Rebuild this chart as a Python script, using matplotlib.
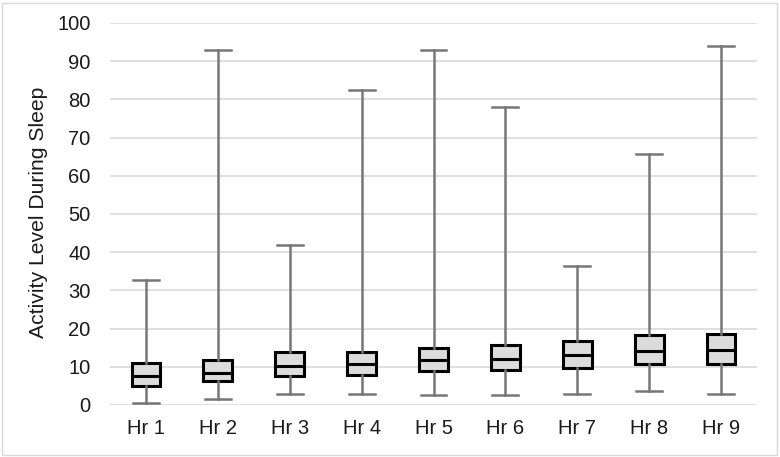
import matplotlib.pyplot as plt

plt.rcParams['font.family'] = ['Liberation Sans', 'DejaVu Sans']

# Box plot summary per hour
hours = ['Hr 1', 'Hr 2', 'Hr 3', 'Hr 4', 'Hr 5', 'Hr 6', 'Hr 7', 'Hr 8', 'Hr 9']
whisker_low = [0.4, 1.5, 2.9, 2.9, 2.7, 2.5, 2.8, 3.7, 2.9]
q1 = [5.0, 6.3, 7.6, 7.9, 8.9, 9.1, 9.6, 10.8, 10.8]
median = [7.6, 8.3, 10.1, 10.7, 11.7, 12.0, 13.1, 14.1, 14.3]
q3 = [11.0, 11.7, 13.8, 14.0, 14.8, 15.6, 16.8, 18.2, 18.7]
whisker_high = [32.8, 93.0, 41.8, 82.5, 93.0, 78.0, 36.5, 65.8, 94.0]

stats = []
for i in range(len(hours)):
    stats.append({'label': hours[i], 'whislo': whisker_low[i], 'q1': q1[i],
                  'med': median[i], 'q3': q3[i], 'whishi': whisker_high[i],
                  'fliers': []})

fig = plt.figure(figsize=(7.8, 4.57), dpi=100)
ax = fig.add_axes([110 / 780, 52 / 457, 647 / 780, 382 / 457])

ax.bxp(stats, positions=range(1, len(hours) + 1), widths=0.4,
       patch_artist=True, showfliers=False,
       boxprops=dict(facecolor='#dcdcdc', edgecolor='black', linewidth=2.2),
       medianprops=dict(color='black', linewidth=2.2),
       whiskerprops=dict(color='#767676', linewidth=1.8),
       capprops=dict(color='#767676', linewidth=1.8),
       capwidths=0.36, zorder=3)

ax.set_xlim(0.5, len(hours) + 0.5)
ax.set_ylim(0, 100)
ax.set_yticks(range(0, 101, 10))
ax.set_xticks(range(1, len(hours) + 1))
ax.set_xticklabels(hours)
ax.grid(axis='y', color='#d9d9d9', linewidth=1.2, zorder=0)
ax.set_axisbelow(True)
for s in ax.spines.values():
    s.set_visible(False)
ax.tick_params(axis='y', length=0, pad=14, labelsize=14.5, labelcolor='#1a1a1a')
ax.tick_params(axis='x', length=0, pad=10, labelsize=14.5, labelcolor='#1a1a1a')

fig.text(39 / 780, 1 - 212 / 457, 'Activity Level During Sleep', rotation=90,
         ha='center', va='center', fontsize=15.2, color='#1a1a1a')

# light frame around the picture
fig.patches.append(plt.Rectangle((0.002, 0.004), 0.994, 0.99, transform=fig.transFigure,
                                 fill=False, edgecolor='#d9d9d9', linewidth=1))

fig.savefig('out.png', dpi=100)
